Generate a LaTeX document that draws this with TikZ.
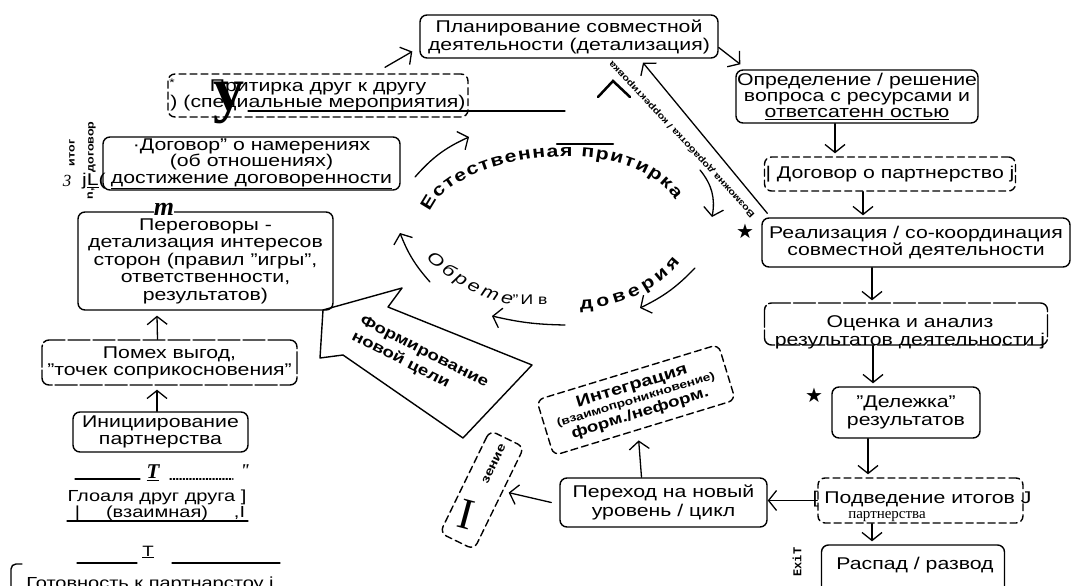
\documentclass[tikz,border=0pt]{standalone}
\usepackage{fontspec}
\setmainfont{Liberation Sans}[FakeStretch=1.25]
\newfontfamily\scanserif{Liberation Serif}
\newfontfamily\scanmono{Liberation Mono}
\newfontfamily\symfont{DejaVu Sans}
\usetikzlibrary{arrows.meta,decorations.text}
\tikzset{
	box/.style={draw,rounded corners=7pt,align=center,line width=1.4pt,inner sep=1pt},
	dbox/.style={box,dash pattern=on 7pt off 4pt},
	rbox/.style={box,dash pattern=on 22pt off 3pt},
	arr/.style={-{Straight Barb[length=8pt,width=20pt]},line width=1.3pt},
	glyph/.style={inner sep=0pt},
	side/.style={inner sep=0pt,rotate=90,font=\bfseries\fontsize{10}{10}\selectfont},
	arc text/.style={decorate,decoration={text along path,text align={fit to path},text={#1}}}
}
\begin{document}
\begin{tikzpicture}[x=1pt,y=-1pt,font=\fontsize{17}{18}\selectfont,line cap=round]
	\useasboundingbox (0,0) rectangle (1072,586);
	\clip (0,0) rectangle (1072,586);
	% right column
	\node[box,minimum width=298pt,minimum height=43pt] (plan) at (569,36.5) {Планирование совместной\\деятельности (детализация)};
	\node[box,minimum width=238pt,minimum height=53pt,font=\fontsize{17}{16}\selectfont] (opred) at (857,96.5) {Определение / решение\\вопроса с ресурсами и\\\underline{ответсатенн остью}};
	\node[dbox,minimum width=244pt,minimum height=34pt] (dogp) at (890,174) {| Договор о партнерство j};
	\node[box,minimum width=308pt,minimum height=49pt,font=\fontsize{17}{17}\selectfont] (real) at (916,242.5) {Реализация / со-координация\\совместной деятельности};
	\node[rbox,minimum width=283pt,minimum height=42pt] (ocen) at (906,324) {};
	\node[glyph,align=center] (ocentx) at (910,332) {Оценка и анализ\\результатов деятельности j};
	\node[box,minimum width=148pt,minimum height=51pt] (delez) at (906,412.5) {"Дележка"\\результатов};
	\node[dbox,minimum width=205pt,minimum height=45pt] (podv) at (920.5,500.5) {};
	\node[glyph] (podvtx) at (922,499) {[ Подведение итогов J};
	\node[glyph,font=\scanserif\fontsize{15}{15}\selectfont] (podvsub) at (887,517) {партнерства};
	\node[box,minimum width=183pt,minimum height=60pt] (raspad) at (913,575) {};
	\node[glyph] (raspadtx) at (915,565) {Распад / развод};
	\node[glyph,rotate=90,font=\scanmono\bfseries\fontsize{12}{12}\selectfont] (exit) at (797,562) {ExiT};
	\node[box,minimum width=207pt,minimum height=49pt,font=\fontsize{17}{19}\selectfont] (perehod) at (663.5,502.5) {Переход на новый\\уровень / цикл};
	\node[dbox,rotate=17,minimum width=190pt,minimum height=58pt,font=\bfseries] (integ) at (636,400) {{\fontsize{16}{16}\selectfont Интеграция}\\[1pt]{\fontsize{11}{12}\selectfont (взаимопроникновение)}\\[1pt]{\fontsize{15}{16}\selectfont форм./неформ.}};
	\node[dbox,rotate=64,minimum width=114pt,minimum height=38pt] (zen) at (482,490) {};
	\node[glyph,rotate=64,font=\bfseries\fontsize{12}{12}\selectfont] (zentx) at (494,464) {зение};
	\node[glyph,rotate=-15,font=\scanserif\fontsize{44}{44}\selectfont] (bigI) at (466,514) {I};
	% left column
	\node[dbox,minimum width=300pt,minimum height=43pt,font=\fontsize{17}{16}\selectfont] (pritirka) at (318,95.5) {Притирка друг к другу\\) (специальные мероприятия)};
	\node[box,minimum width=297pt,minimum height=53pt,font=\fontsize{17}{16.5}\selectfont] (dogn) at (251.5,163.5) {·Договор" о намерениях\\(об отношениях)\\\underline{достижение договоренности}};
	\node[box,minimum width=255pt,minimum height=98pt,font=\fontsize{17}{17.5}\selectfont] (pereg) at (205.5,261) {Переговоры -\\детализация интересов\\сторон (правил "игры",\\ответственности,\\результатов)};
	\node[rbox,minimum width=255pt,minimum height=45pt,font=\fontsize{17}{17}\selectfont] (pomeh) at (169.5,362.5) {Помех выгод,\\"точек соприкосновения"};
	\node[box,minimum width=175pt,minimum height=40pt,font=\fontsize{17}{17}\selectfont] (inic) at (160.5,432) {Инициирование\\партнерства};
	\node[side] (itog) at (72,153) {итог};
	\node[side] (dogv) at (92,147) {договор};
	\node[side] (ncom) at (91,194) {n,};
	\node[glyph,font=\scanserif\itshape\fontsize{17}{17}\selectfont] (three) at (67,181) {3};
	\node[glyph] (jl) at (94,181) {j\underline{L}(};
	\node[glyph,fill=white,font=\scanserif\bfseries\itshape\fontsize{26}{26}\selectfont] (mmark) at (164,209) {m};
	\node[glyph,font=\fontsize{11}{11}\selectfont] (ast) at (172,83) {*};
	\node[glyph,font=\scanserif\bfseries\fontsize{62}{62}\selectfont] (ybig) at (229,103) {y};
	\draw[line width=1.3pt] (248,111) -- (565,111);
	\draw[line width=1.3pt] (75,479) -- (140,479);
	\draw[line width=1.3pt,dotted] (170,479) -- (233,479);
	\node[glyph,font=\scanserif\bfseries\itshape\fontsize{21}{21}\selectfont] (tup) at (153,473) {\underline{T}};
	\node[glyph,font=\scanserif\bfseries\itshape\fontsize{18}{18}\selectfont] (tq) at (245,471) {"};
	\node[glyph,font=\fontsize{16}{16}\selectfont] (gloal) at (157,497) {Глоаля друг друга ]};
	\node[glyph,font=\fontsize{16}{16}\selectfont] (vzaim) at (160,513) {|\hspace{26pt}(взаимная)\hspace{26pt},I};
	\draw[line width=1.3pt] (67,521) -- (248,521);
	\draw[line width=1.3pt] (77,563) -- (137,563);
	\draw[line width=1.3pt] (172,563) -- (280,563);
	\node[glyph,font=\fontsize{15}{15}\selectfont] (tlow) at (148,552) {\underline{T}};
	\draw[line width=1.4pt,rounded corners=5pt] (11,595) -- (11,564) -- (22,564);
	\node[glyph,font=\fontsize{16}{16}\selectfont] (gotov) at (150,584) {Готовность к партнарстоу j};
	% big arrow
	\draw[line width=1.4pt,line join=round] (323,310) -- (402,288) -- (388,307) -- (532,365) -- (463,438) -- (343,355) -- (320,358) -- cycle;
	\node[glyph,rotate=-27,align=left,font=\bfseries\fontsize{15}{18}\selectfont] (form) at (420,360) {Формирование\\новой цели};
	% circle
	\path[arc text={|\bfseries\fontsize{17}{17}\selectfont|Естественная притирка}] (430,212) .. controls (452,155) and (628,128) .. (675,200);
	\draw[line width=2.5pt] (557,144) -- (613,144);
	\path[arc text={|\itshape\fontsize{17}{17}\selectfont|Обрете}] (426,258) .. controls (450,282) and (480,300) .. (512,305);
	\path[arc text={|\bfseries\fontsize{17}{17}\selectfont|доверия}] (580,309) .. controls (612,308) and (655,295) .. (680,262);
	\node[glyph,font=\fontsize{14}{14}\selectfont] (ivtx) at (530,300) {"\,И в};
	\coordinate (ea) at (415,177);
	\coordinate (eb) at (469,137);
	\coordinate (oa) at (430,282);
	\coordinate (ob) at (400,233);
	\coordinate (va) at (565,325);
	\coordinate (vb) at (492,316);
	\coordinate (da) at (695,268);
	\coordinate (db) at (640,308);
	\coordinate (ka) at (700,170);
	\coordinate (kb) at (712,217);
	\draw[arr] (ea) to[bend left=12] (eb);
	\draw[arr] (oa) to[bend left=10] (ob);
	\draw[arr] (va) to[bend left=6] (vb);
	\draw[arr] (da) to[bend left=10] (db);
	\draw[arr] (ka) to[bend left=25] (kb);
	\node[glyph,rotate=133,font=\bfseries\fontsize{9}{9}\selectfont] (vozm) at (682,139) {Возможна доработка / корректировка};
	\draw[line width=2.5pt] (598,97) -- (613,81) -- (630,97);
	\node[glyph,font=\symfont\fontsize{20}{20}\selectfont] (star1) at (745,231) {★};
	\node[glyph,font=\symfont\fontsize{20}{20}\selectfont] (star2) at (814,395) {★};
	% connectors
	\draw[arr] ([xshift=67pt,yshift=6pt]pritirka.north) -- ([xshift=-7pt,yshift=-15pt]plan.west);
	\draw[arr] ([yshift=-11pt]plan.east) -- ([xshift=5pt,yshift=5pt]opred.north west);
	\draw[arr] ([xshift=-22pt]opred.south) -- ([xshift=-55pt,yshift=3pt]dogp.north);
	\draw[arr] ([xshift=-27pt]dogp.south) -- ([xshift=-53pt,yshift=2pt]real.north);
	\draw[arr] ([xshift=-44pt]real.south) -- ([xshift=-34pt,yshift=2pt]ocen.north);
	\draw[arr] ([xshift=-33pt]ocen.south) -- ([xshift=-33pt,yshift=3pt]delez.north);
	\draw[arr] ([xshift=-38pt]delez.south) -- ([xshift=-52.5pt,yshift=3pt]podv.north);
	\draw[arr] ([xshift=-48.5pt]podv.south) -- ([xshift=-41pt,yshift=3pt]raspad.north);
	\draw[arr] (podv.west) -- (perehod.east |- podv.west);
	\draw[arr] ([xshift=-22pt]perehod.north) -- ([xshift=-6pt,yshift=-12pt]integ.south);
	\draw[arr] ([xshift=-8pt]perehod.west) -- ([xshift=9pt,yshift=6pt]zen.south);
	\draw[arr] ([xshift=6pt,yshift=4pt]real.north west) -- ([xshift=74pt,yshift=-4pt]plan.south);
	\draw[arr] ([xshift=-12pt]pomeh.north) -- ([xshift=-48.5pt,yshift=-5pt]pereg.south);
	\draw[arr] ([xshift=-3.5pt]inic.north) -- ([xshift=-12.5pt,yshift=-4pt]pomeh.south);
\end{tikzpicture}
\end{document}
